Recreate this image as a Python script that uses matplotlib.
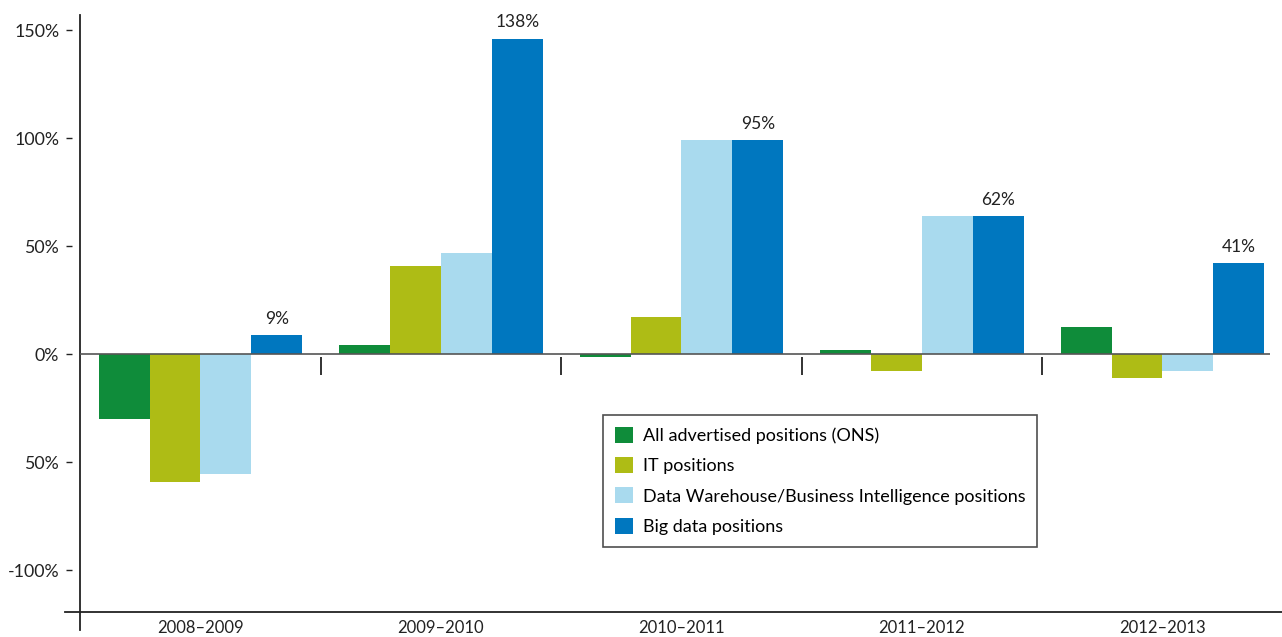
import matplotlib.pyplot as plt
import matplotlib.transforms as mtransforms
import numpy as np

periods = ['2008–2009', '2009–2010', '2010–2011', '2011–2012', '2012–2013']
series_names = ['All advertised positions (ONS)', 'IT positions',
                'Data Warehouse/Business Intelligence positions', 'Big data positions']
all_positions = [-30, 4, -1.5, 2, 12.5]
it_positions = [-59, 41, 17, -8, -11]
dwbi_positions = [-55.5, 47, 99, 64, -8]
big_data = [8.8, 146, 99, 64, 42]
big_data_labels = ['9%', '138%', '95%', '62%', '41%']
y_ticks = [150, 100, 50, 0, -50, -100]
y_tick_labels = ['150%', '100%', '50%', '0%', '50%', '-100%']

colors = ['#0F8C3A', '#AEBC15', '#A9DAEE', '#0077BF']

plt.rcParams['font.family'] = ['Lato', 'DejaVu Sans']

fig = plt.figure(figsize=(12.82, 6.37), dpi=100)
ax = fig.add_axes([80 / 1282, 1 - 612 / 637, 1190 / 1282, 597 / 637])

x = np.arange(len(periods))
w = 0.212
data = [all_positions, it_positions, dwbi_positions, big_data]
bars = []
for i, (vals, name, c) in enumerate(zip(data, series_names, colors)):
    b = ax.bar(x + (i - 1.5) * w, vals, w, color=c, label=name, zorder=2)
    bars.append(b)

for rect, lab in zip(bars[3], big_data_labels):
    ax.annotate(lab, (rect.get_x() + rect.get_width() / 2, rect.get_height()),
                xytext=(0, 6), textcoords='offset points', ha='center', va='bottom',
                fontsize=12.5, color='#222222')

ax.axhline(0, color='#555555', lw=1.2, zorder=3)
ax.vlines(x[:-1] + 0.5, -9.5, -1.5, color='#222222', lw=1.3, zorder=3)

ax.set_xlim(-0.501, 4.447)
ax.set_ylim(-119.4, 157)

for s in ax.spines.values():
    s.set_visible(False)
ax.plot([0, 0], [-0.03, 1], transform=ax.transAxes, color='#222222', lw=1.3, clip_on=False)
ax.plot([-0.0126, 1.01], [0, 0], transform=ax.transAxes, color='#222222', lw=1.3, clip_on=False)

# detached little dashes next to the y tick labels
dash_tr = mtransforms.blended_transform_factory(ax.transAxes, ax.transData) + \
    mtransforms.ScaledTranslation(-0.11, 0, fig.dpi_scale_trans)
ax.plot(np.zeros(len(y_ticks)), y_ticks, linestyle='none', marker='_', markersize=4,
        markeredgewidth=1, color='#222222', transform=dash_tr, clip_on=False)

ax.set_yticks(y_ticks)
ax.set_yticklabels(y_tick_labels, fontsize=12.8, color='#222222')
ax.tick_params(axis='y', length=0, pad=15)
ax.set_xticks(x)
ax.set_xticklabels(periods, fontsize=12, color='#222222')
ax.tick_params(axis='x', length=0, pad=6)

leg = fig.legend(loc='upper left', bbox_to_anchor=(603 / 1282, 1 - 415 / 637),
                 fontsize=13, frameon=True, fancybox=False, edgecolor='#222222',
                 handlelength=1.0, handleheight=1.0, handletextpad=0.55,
                 labelspacing=0.72, borderpad=0.65, borderaxespad=0)
leg.get_frame().set_linewidth(1.2)

fig.savefig('out.png', dpi=100)
